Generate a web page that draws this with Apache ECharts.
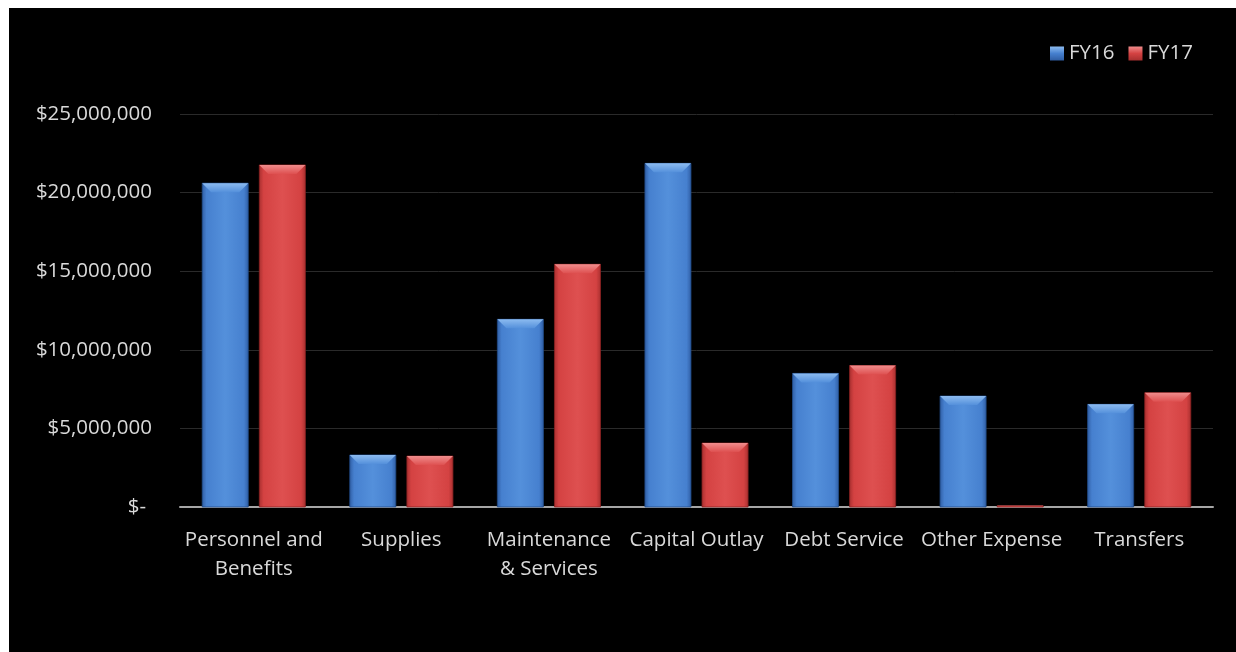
<!DOCTYPE html>
<html>
<head>
<meta charset="utf-8">
<script src="https://cdn.jsdelivr.net/npm/echarts@6/dist/echarts.min.js"></script>
<style>
  html, body { margin: 0; padding: 0; background: #ffffff; }
  #chart { position: absolute; left: 9px; top: 8px; width: 1227px; height: 644px; background: #000000; }
</style>
</head>
<body>
<div id="chart"></div>
<script>
// Expenditures by category, FY16 vs FY17
const categories = ['Personnel and\nBenefits', 'Supplies', 'Maintenance\n& Services', 'Capital Outlay', 'Debt Service', 'Other Expense', 'Transfers'];
const seriesNames = ['FY16', 'FY17'];
const fy16 = [20600000, 3310000, 11940000, 21860000, 8500000, 7060000, 6530000];
const fy17 = [21760000, 3240000, 15440000, 4070000, 9000000, 80000, 7270000];
const yTicks = { min: 0, max: 25000000, interval: 5000000 };

// Palettes for the bevelled bars: edge, body, highlight, top face
const palettes = [
  { edge: '#2f5da3', body: '#4680cf', light: '#5490db', top: '#8cbbf0', line: '#214c8a' },
  { edge: '#a82f2f', body: '#d44242', light: '#de5050', top: '#f08c8c', line: '#8c2222' }
];

const chart = echarts.init(document.getElementById('chart'));

function bevelBar(seriesIdx) {
  const pal = palettes[seriesIdx];
  return function (params, api) {
    const cat = api.value(0);
    const val = api.value(1);
    const base = api.coord([cat, 0]);
    const top = api.coord([cat, val]);
    const band = api.size([1, 0])[0];
    const barW = band * 0.312;
    const gap = band * 0.075;
    const cx = base[0] + (seriesIdx === 0 ? -(gap + barW) / 2 : (gap + barW) / 2);
    const x0 = cx - barW / 2, x1 = cx + barW / 2;
    const y0 = top[1], y1 = base[1];
    const h = y1 - y0;
    const b = Math.min(9, h / 2);
    const sideGrad = new echarts.graphic.LinearGradient(0, 0, 1, 0, [
      { offset: 0, color: pal.edge },
      { offset: 0.1, color: pal.body },
      { offset: 0.5, color: pal.light },
      { offset: 0.9, color: pal.body },
      { offset: 1, color: pal.edge }
    ]);
    return {
      type: 'group',
      children: [
        {
          type: 'rect',
          shape: { x: x0, y: y0, width: barW, height: h },
          style: { fill: sideGrad, stroke: pal.line, lineWidth: 0.8 }
        },
        {
          type: 'polygon',
          shape: { points: [[x0, y0], [x1, y0], [x1 - b, y0 + b], [x0 + b, y0 + b]] },
          style: {
            fill: new echarts.graphic.LinearGradient(0, 0, 0, 1, [
              { offset: 0, color: pal.top },
              { offset: 1, color: pal.light }
            ])
          }
        }
      ]
    };
  };
}

function toData(values) {
  return values.map((v, i) => [i, v]);
}

function money(v) {
  if (v === 0) return '{z|$-}';
  return '$' + v.toLocaleString('en-US');
}

const fontFamily = '"Open Sans", "Noto Sans", sans-serif';
const fontSize = 20.5;

chart.setOption({
  backgroundColor: '#000000',
  animation: false,
  textStyle: { fontFamily: fontFamily },
  grid: { left: 171, right: 23, top: 106, bottom: 145, containLabel: false },
  legend: {
    data: seriesNames.map((n, i) => ({
      name: n,
      icon: 'rect',
      itemStyle: {
        color: new echarts.graphic.LinearGradient(0, 0, 0, 1, [
          { offset: 0, color: palettes[i].top },
          { offset: 0.5, color: palettes[i].body },
          { offset: 1, color: palettes[i].edge }
        ])
      }
    })),
    left: 1036,
    top: 30,
    itemWidth: 14,
    itemHeight: 14,
    itemGap: 14,
    textStyle: { color: '#d9d9d9', fontSize: fontSize, fontFamily: fontFamily }
  },
  xAxis: {
    type: 'category',
    data: categories,
    axisLine: { lineStyle: { color: '#a6a6a6', width: 2 } },
    axisTick: { show: false },
    axisLabel: {
      color: '#d9d9d9',
      fontSize: fontSize,
      lineHeight: 29,
      margin: 19,
      interval: 0,
      fontFamily: fontFamily
    },
    splitLine: { show: false }
  },
  yAxis: {
    type: 'value',
    min: yTicks.min,
    max: yTicks.max,
    interval: yTicks.interval,
    axisLine: { show: false },
    axisTick: { show: false },
    axisLabel: {
      color: '#d9d9d9',
      fontSize: fontSize,
      margin: 28,
      fontFamily: fontFamily,
      formatter: money,
      rich: { z: { color: '#d9d9d9', fontSize: fontSize, fontFamily: fontFamily, padding: [0, 6, 0, 0] } }
    },
    splitLine: { lineStyle: { color: '#2a2a2a', width: 1 } }
  },
  series: [fy16, fy17].map((vals, s) => ({
    name: seriesNames[s],
    type: 'custom',
    renderItem: bevelBar(s),
    encode: { x: 0, y: 1 },
    itemStyle: { color: palettes[s].body },
    data: toData(vals),
    z: 3
  }))
});
</script>
</body>
</html>
